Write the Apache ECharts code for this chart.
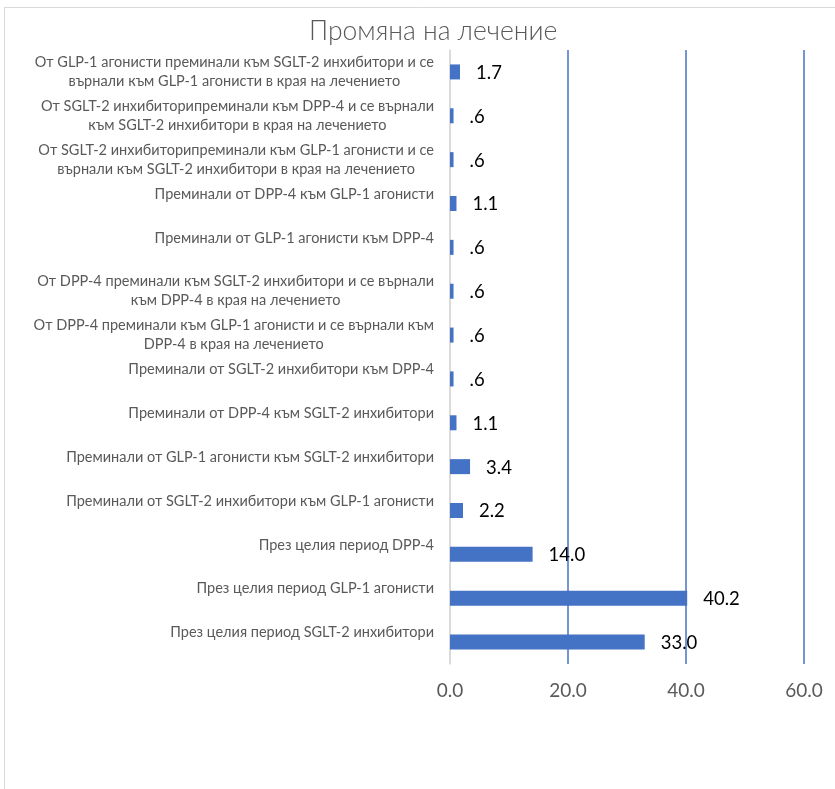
<!DOCTYPE html>
<html>
<head>
<meta charset="utf-8">
<script src="https://cdn.jsdelivr.net/npm/echarts@6/dist/echarts.min.js"></script>
<style>
  html, body { margin: 0; padding: 0; background: #fff; }
  #chart { width: 835px; height: 789px; }
</style>
</head>
<body>
<div id="chart"></div>
<script>
// Treatment change groups, listed top to bottom
const categories = [
  'От GLP-1 агонисти преминали към SGLT-2 инхибитори и се\nвърнали към GLP-1 агонисти в края на лечението',
  'От SGLT-2 инхибиторипреминали към DPP-4 и се върнали\nкъм SGLT-2 инхибитори в края на лечението',
  'От SGLT-2 инхибиторипреминали към GLP-1 агонисти и се\nвърнали към SGLT-2 инхибитори в края на лечението',
  'Преминали от DPP-4 към GLP-1 агонисти',
  'Преминали от GLP-1 агонисти към DPP-4',
  'От DPP-4 преминали към SGLT-2 инхибитори и се върнали\nкъм DPP-4 в края на лечението',
  'От DPP-4 преминали към GLP-1 агонисти и се върнали към\nDPP-4 в края на лечението',
  'Преминали от SGLT-2 инхибитори към DPP-4',
  'Преминали от DPP-4 към SGLT-2 инхибитори',
  'Преминали от GLP-1 агонисти към SGLT-2 инхибитори',
  'Преминали от SGLT-2 инхибитори към GLP-1 агонисти',
  'През целия период DPP-4',
  'През целия период GLP-1 агонисти',
  'През целия период SGLT-2 инхибитори'
];
const percentages = [1.7, 0.6, 0.6, 1.1, 0.6, 0.6, 0.6, 0.6, 1.1, 3.4, 2.2, 14.0, 40.2, 33.0];
const axisTicks = [0, 20, 40, 60];

const FONT = 'Lato, "Open Sans", sans-serif';
const GREY = '#595959';
const BLUE = '#4472C4';

// Each category line is centred inside its block; single-line labels
// keep an empty second line so they sit like the wrapped ones.
function categoryLabel(v) {
  const lines = v.split('\n');
  if (lines.length === 1) lines.push(' ');
  return lines.map(l => '{c|' + l + '}').join('\n');
}

function valueLabel(v) {
  const s = v.toFixed(1);
  return v < 1 ? s.replace(/^0/, '') : s;
}

const chart = echarts.init(document.getElementById('chart'));
chart.setOption({
  animation: false,
  backgroundColor: '#fff',
  title: {
    text: 'Промяна на лечение',
    left: 304,
    top: 13,
    textStyle: { fontFamily: FONT, fontSize: 26.5, fontWeight: 300, color: GREY }
  },
  graphic: [{
    type: 'rect',
    shape: { x: 4.5, y: 7.5, width: 840, height: 800 },
    style: { fill: 'none', stroke: '#d9d9d9', lineWidth: 1 },
    silent: true
  }],
  grid: { left: 450, right: 31, top: 50, bottom: 125, containLabel: false },
  xAxis: {
    type: 'value',
    min: axisTicks[0],
    max: axisTicks[axisTicks.length - 1],
    interval: axisTicks[1] - axisTicks[0],
    axisLine: { show: false },
    axisTick: { show: false },
    axisLabel: {
      margin: 17,
      fontFamily: FONT, fontSize: 19, color: GREY,
      formatter: v => v.toFixed(1)
    },
    splitLine: {
      show: true,
      lineStyle: { color: ['#d9d9d9', BLUE, BLUE, BLUE], width: 1.5 }
    }
  },
  yAxis: {
    type: 'category',
    data: categories,
    inverse: true,
    axisLine: { show: true, lineStyle: { color: '#d9d9d9', width: 1.5 } },
    axisTick: { show: false },
    axisLabel: {
      margin: 16,
      align: 'right',
      interval: 0,
      lineHeight: 19,
      fontFamily: FONT, fontSize: 14.5, color: GREY,
      formatter: categoryLabel,
      rich: {
        c: { align: 'center', fontFamily: FONT, fontSize: 14.5, color: GREY, lineHeight: 19 }
      }
    }
  },
  series: [{
    type: 'bar',
    data: percentages,
    barWidth: 15,
    itemStyle: { color: BLUE },
    label: {
      show: true,
      position: 'right',
      distance: 16,
      offset: [0, 1],
      fontFamily: FONT, fontSize: 18.5, color: '#000',
      formatter: p => valueLabel(p.value)
    }
  }]
});
</script>
</body>
</html>
